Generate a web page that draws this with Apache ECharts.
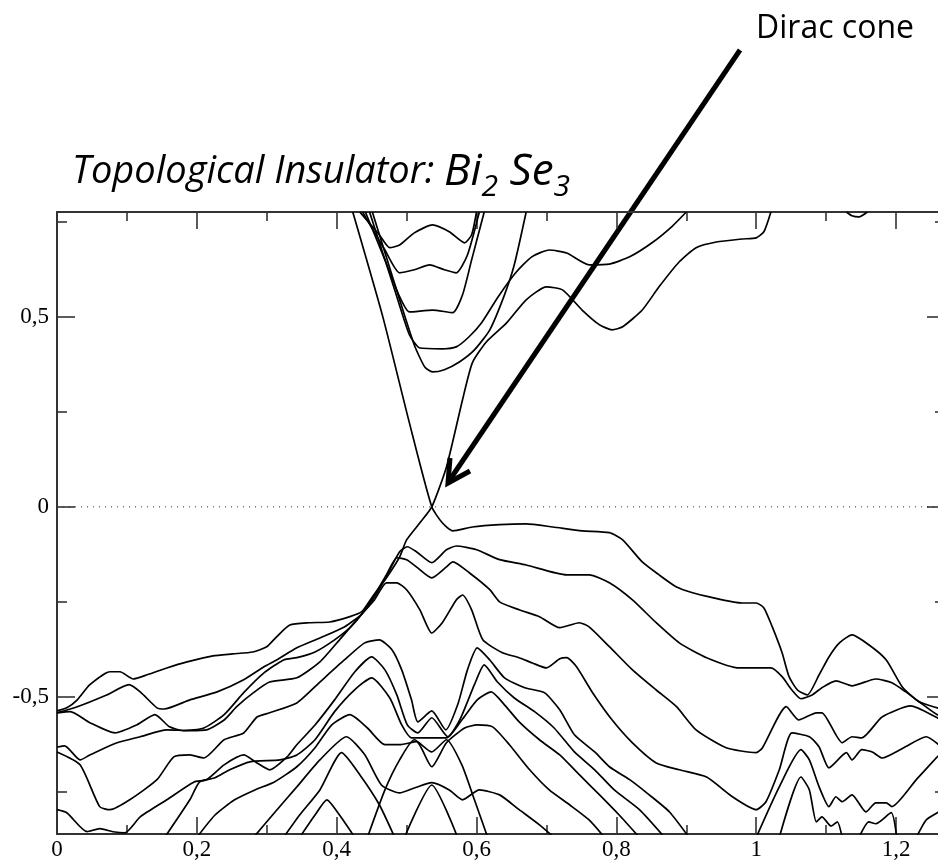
<!DOCTYPE html>
<html><head><meta charset="utf-8">
<script src="https://cdn.jsdelivr.net/npm/echarts@6/dist/echarts.min.js"></script>
<style>html,body{margin:0;padding:0;background:#fff;overflow:hidden}#c{width:938px;height:863px}</style>
</head><body><div id="c"></div>
<script>
const xMajorTicks = [0, 0.2, 0.4, 0.6, 0.8, 1, 1.2];
const xMinorTicks = [0.1, 0.3, 0.5, 0.7, 0.9, 1.1];
const yMajorTicks = [-0.5, 0, 0.5];
const yMinorTicks = [-0.75, -0.25, 0.25, 0.75];
const zeroLine = [[0, 0], [1.27, 0]];

const coneA = [[0.423,0.776],[0.466,0.5],[0.504,0.221],[0.536,0],[0.551,-0.042],[0.566,-0.063],[0.594,-0.053],[0.633,-0.047],[0.671,-0.045],[0.709,-0.053],[0.751,-0.063],[0.79,-0.068],[0.809,-0.087],[0.837,-0.145],[0.861,-0.179],[0.886,-0.211],[0.909,-0.226],[0.933,-0.237],[0.98,-0.253],[1.0,-0.253],[1.011,-0.266],[1.023,-0.316],[1.037,-0.384],[1.047,-0.447],[1.059,-0.482],[1.073,-0.495],[1.09,-0.442],[1.104,-0.395],[1.119,-0.358],[1.137,-0.337],[1.161,-0.363],[1.186,-0.403],[1.209,-0.474],[1.233,-0.513],[1.259,-0.529],[1.27,-0.534]];
const coneB = [[0,-0.537],[0.014,-0.529],[0.029,-0.508],[0.047,-0.468],[0.076,-0.434],[0.09,-0.434],[0.109,-0.453],[0.129,-0.442],[0.157,-0.424],[0.186,-0.408],[0.223,-0.392],[0.251,-0.387],[0.28,-0.382],[0.3,-0.368],[0.314,-0.342],[0.333,-0.311],[0.361,-0.305],[0.39,-0.303],[0.419,-0.289],[0.436,-0.276],[0.451,-0.237],[0.471,-0.187],[0.49,-0.132],[0.5,-0.087],[0.519,-0.042],[0.536,0],[0.557,0.105],[0.58,0.282],[0.594,0.379],[0.614,0.434],[0.643,0.484],[0.671,0.545],[0.7,0.579],[0.723,0.571],[0.751,0.518],[0.776,0.479],[0.794,0.466],[0.809,0.474],[0.837,0.518],[0.861,0.579],[0.89,0.645],[0.914,0.682],[0.943,0.697],[0.98,0.705],[1.0,0.708],[1.011,0.724],[1.021,0.776]];
const cb1 = [[0.433,0.776],[0.461,0.716],[0.476,0.682],[0.49,0.689],[0.511,0.721],[0.537,0.742],[0.561,0.724],[0.583,0.695],[0.593,0.716],[0.6,0.776]];
const cb2 = [[0.437,0.776],[0.469,0.676],[0.49,0.616],[0.511,0.624],[0.533,0.637],[0.554,0.624],[0.571,0.616],[0.587,0.663],[0.604,0.776]];
const cb3 = [[0.441,0.776],[0.469,0.65],[0.49,0.553],[0.504,0.513],[0.537,0.518],[0.566,0.511],[0.58,0.558],[0.593,0.65],[0.611,0.776]];
const cb4 = [[0.447,0.776],[0.483,0.571],[0.504,0.453],[0.519,0.418],[0.551,0.416],[0.571,0.421],[0.589,0.447],[0.607,0.484],[0.631,0.553],[0.656,0.616],[0.679,0.658],[0.704,0.676],[0.729,0.668],[0.761,0.637],[0.79,0.639],[0.819,0.658],[0.851,0.695],[0.879,0.737],[0.9,0.776]];
const cb5 = [[0.451,0.776],[0.49,0.545],[0.511,0.426],[0.526,0.368],[0.537,0.355],[0.554,0.361],[0.576,0.382],[0.597,0.413],[0.619,0.466],[0.64,0.558],[0.654,0.637],[0.671,0.776]];
const cbTop = [[1.129,0.776],[1.137,0.766],[1.147,0.763],[1.159,0.776]];

const vb2 = [[0,-0.542],[0.029,-0.526],[0.071,-0.495],[0.103,-0.468],[0.119,-0.487],[0.143,-0.529],[0.153,-0.532],[0.19,-0.508],[0.229,-0.487],[0.267,-0.455],[0.296,-0.421],[0.314,-0.403],[0.343,-0.371],[0.376,-0.345],[0.411,-0.316],[0.436,-0.282],[0.456,-0.232],[0.473,-0.176],[0.49,-0.118],[0.501,-0.105],[0.514,-0.118],[0.536,-0.147],[0.557,-0.113],[0.571,-0.103],[0.6,-0.113],[0.633,-0.139],[0.671,-0.153],[0.729,-0.179],[0.761,-0.179],[0.79,-0.2],[0.823,-0.245],[0.857,-0.305],[0.89,-0.358],[0.929,-0.397],[0.976,-0.424],[1.021,-0.424],[1.037,-0.447],[1.051,-0.482],[1.064,-0.505],[1.08,-0.495],[1.094,-0.476],[1.114,-0.458],[1.137,-0.471],[1.171,-0.453],[1.194,-0.463],[1.214,-0.487],[1.233,-0.513],[1.259,-0.547],[1.27,-0.55]];
const vb3 = [[0,-0.542],[0.019,-0.539],[0.047,-0.568],[0.083,-0.595],[0.114,-0.574],[0.14,-0.547],[0.161,-0.579],[0.181,-0.589],[0.21,-0.582],[0.239,-0.547],[0.267,-0.489],[0.296,-0.437],[0.324,-0.403],[0.343,-0.397],[0.369,-0.382],[0.397,-0.35],[0.419,-0.318],[0.436,-0.282],[0.454,-0.232],[0.471,-0.179],[0.486,-0.134],[0.5,-0.139],[0.514,-0.158],[0.536,-0.187],[0.557,-0.158],[0.566,-0.145],[0.59,-0.174],[0.619,-0.218],[0.633,-0.25],[0.661,-0.271],[0.69,-0.289],[0.719,-0.318],[0.747,-0.305],[0.761,-0.316],[0.79,-0.368],[0.823,-0.429],[0.857,-0.482],[0.886,-0.526],[0.914,-0.587],[0.957,-0.634],[1.0,-0.647],[1.009,-0.634],[1.043,-0.526],[1.061,-0.561],[1.086,-0.542],[1.094,-0.542],[1.123,-0.621],[1.137,-0.605],[1.151,-0.608],[1.18,-0.553],[1.221,-0.524],[1.259,-0.555],[1.27,-0.563]];
const vb4 = [[0,-0.632],[0.011,-0.629],[0.033,-0.666],[0.047,-0.653],[0.086,-0.621],[0.119,-0.605],[0.157,-0.587],[0.19,-0.589],[0.214,-0.587],[0.239,-0.561],[0.257,-0.526],[0.281,-0.489],[0.304,-0.461],[0.343,-0.45],[0.376,-0.408],[0.404,-0.35],[0.436,-0.282],[0.454,-0.245],[0.471,-0.2],[0.486,-0.2],[0.5,-0.218],[0.519,-0.271],[0.536,-0.332],[0.551,-0.305],[0.571,-0.245],[0.58,-0.232],[0.593,-0.271],[0.609,-0.35],[0.637,-0.384],[0.661,-0.397],[0.68,-0.411],[0.7,-0.424],[0.719,-0.4],[0.729,-0.397],[0.743,-0.421],[0.766,-0.489],[0.794,-0.561],[0.823,-0.621],[0.857,-0.674],[0.89,-0.692],[0.929,-0.711],[0.966,-0.763],[1.0,-0.797],[1.014,-0.776],[1.033,-0.692],[1.051,-0.595],[1.076,-0.605],[1.09,-0.632],[1.104,-0.687],[1.129,-0.647],[1.137,-0.666],[1.151,-0.639],[1.166,-0.645],[1.18,-0.661],[1.211,-0.634],[1.243,-0.605],[1.269,-0.639]];
const vb5 = [[0,-0.645],[0.033,-0.679],[0.061,-0.789],[0.076,-0.797],[0.104,-0.771],[0.143,-0.718],[0.167,-0.658],[0.19,-0.653],[0.21,-0.661],[0.239,-0.613],[0.267,-0.595],[0.286,-0.553],[0.304,-0.542],[0.343,-0.516],[0.376,-0.461],[0.411,-0.403],[0.44,-0.358],[0.461,-0.35],[0.479,-0.376],[0.493,-0.429],[0.507,-0.508],[0.516,-0.566],[0.536,-0.537],[0.556,-0.587],[0.573,-0.521],[0.587,-0.429],[0.601,-0.371],[0.619,-0.403],[0.64,-0.45],[0.669,-0.476],[0.697,-0.489],[0.719,-0.534],[0.74,-0.6],[0.769,-0.645],[0.79,-0.684],[0.819,-0.718],[0.847,-0.758],[0.876,-0.803],[0.904,-0.87]];
const vb6 = [[0,-0.797],[0.014,-0.805],[0.043,-0.855],[0.061,-0.847],[0.08,-0.855],[0.097,-0.858],[0.119,-0.816],[0.157,-0.771],[0.196,-0.724],[0.214,-0.718],[0.239,-0.679],[0.267,-0.653],[0.286,-0.674],[0.304,-0.692],[0.329,-0.658],[0.343,-0.626],[0.369,-0.574],[0.397,-0.508],[0.426,-0.434],[0.45,-0.395],[0.469,-0.429],[0.486,-0.495],[0.501,-0.574],[0.516,-0.595],[0.536,-0.555],[0.559,-0.605],[0.576,-0.561],[0.597,-0.468],[0.611,-0.416],[0.63,-0.461],[0.654,-0.503],[0.683,-0.539],[0.711,-0.582],[0.74,-0.645],[0.769,-0.692],[0.797,-0.745],[0.833,-0.797],[0.869,-0.87]];
const vb7 = [[0.154,-0.87],[0.19,-0.771],[0.204,-0.724],[0.226,-0.713],[0.247,-0.692],[0.276,-0.671],[0.319,-0.666],[0.343,-0.653],[0.369,-0.613],[0.397,-0.539],[0.426,-0.481],[0.45,-0.45],[0.476,-0.503],[0.493,-0.574],[0.507,-0.608],[0.536,-0.608],[0.557,-0.608],[0.579,-0.561],[0.601,-0.508],[0.621,-0.487],[0.64,-0.521],[0.661,-0.566],[0.69,-0.613],[0.719,-0.653],[0.747,-0.705],[0.776,-0.758],[0.804,-0.811],[0.833,-0.87]];
const vb8 = [[0.2,-0.87],[0.226,-0.811],[0.254,-0.771],[0.283,-0.745],[0.311,-0.724],[0.343,-0.684],[0.369,-0.634],[0.393,-0.574],[0.419,-0.547],[0.444,-0.582],[0.469,-0.626],[0.49,-0.626],[0.514,-0.618],[0.536,-0.684],[0.557,-0.621],[0.583,-0.582],[0.601,-0.574],[0.623,-0.579],[0.647,-0.626],[0.676,-0.692],[0.704,-0.745],[0.733,-0.784],[0.761,-0.824],[0.783,-0.87]];
const vb9 = [[0.281,-0.87],[0.311,-0.805],[0.343,-0.737],[0.376,-0.666],[0.414,-0.605],[0.44,-0.652],[0.464,-0.732],[0.49,-0.753],[0.511,-0.74],[0.536,-0.726],[0.561,-0.745],[0.58,-0.771],[0.604,-0.745],[0.633,-0.758],[0.661,-0.797],[0.69,-0.837],[0.711,-0.87]];
const vb10 = [[0.324,-0.87],[0.347,-0.811],[0.376,-0.745],[0.407,-0.647],[0.433,-0.705],[0.461,-0.784],[0.483,-0.87]];
const vb11 = [[0.347,-0.87],[0.369,-0.811],[0.386,-0.771],[0.404,-0.811],[0.426,-0.87]];
const vbS1 = [[0.444,-0.87],[0.469,-0.745],[0.49,-0.666],[0.511,-0.613],[0.536,-0.645],[0.557,-0.613],[0.579,-0.679],[0.597,-0.771],[0.616,-0.87]];
const vbS2 = [[0.497,-0.87],[0.536,-0.732],[0.573,-0.87]];
const vb5r = [[1.0,-0.87],[1.033,-0.737],[1.064,-0.639],[1.076,-0.666],[1.09,-0.737],[1.104,-0.789],[1.114,-0.763],[1.123,-0.776],[1.137,-0.758],[1.157,-0.803],[1.171,-0.779],[1.186,-0.779],[1.194,-0.789],[1.229,-0.718],[1.259,-0.658],[1.27,-0.64]];
const vb6r = [[1.033,-0.87],[1.064,-0.711],[1.076,-0.745],[1.086,-0.829],[1.094,-0.816],[1.107,-0.84],[1.116,-0.829],[1.123,-0.87]];
const vbBump = [[1.147,-0.87],[1.161,-0.829],[1.171,-0.834],[1.193,-0.805],[1.201,-0.87]];
const vbEdge = [[1.229,-0.87],[1.243,-0.824],[1.259,-0.805],[1.27,-0.79]];

const bandList = [coneA, coneB, cb1, cb2, cb3, cb4, cb5, cbTop, vb2, vb3, vb4, vb5, vb6, vb7, vb8, vb9, vb10, vb11, vbS1, vbS2, vb5r, vb6r, vbBump, vbEdge];

const chart = echarts.init(document.getElementById('c'), null, {renderer: 'canvas'});
const axisCol = '#333';
const fmt = v => String(+(+v).toFixed(2)).replace('.', ',');
function xAx(pos, ticks, len, labels, line) {
  return {type: 'value', position: pos, min: 0, max: 1.27,
    axisLine: {show: line, onZero: false, lineStyle: {color: axisCol, width: 2}},
    axisTick: {show: true, inside: true, length: len, customValues: ticks, lineStyle: {color: axisCol, width: 1.6}},
    axisLabel: labels ? {show: true, customValues: ticks, formatter: fmt, fontFamily: 'Liberation Serif', fontSize: 23, color: '#000', margin: 4} : {show: false},
    splitLine: {show: false}};
}
function yAx(pos, ticks, len, labels, line) {
  return {type: 'value', position: pos, min: -0.861, max: 0.776,
    axisLine: {show: line, onZero: false, lineStyle: {color: axisCol, width: 2}},
    axisTick: {show: true, inside: true, length: len, customValues: ticks, lineStyle: {color: axisCol, width: 1.6}},
    axisLabel: labels ? {show: true, customValues: ticks, formatter: fmt, fontFamily: 'Liberation Serif', fontSize: 23, color: '#000', margin: 8} : {show: false},
    splitLine: {show: false}};
}
const series = bandList.map(d => ({type: 'line', data: d, showSymbol: false, symbol: 'none', smooth: 0.2, clip: true, silent: true,
  lineStyle: {color: '#000', width: 1.7}}));
series.push({type: 'line', data: zeroLine, showSymbol: false, symbol: 'none', silent: true,
  lineStyle: {color: '#333', width: 1, type: [1, 5]}});

chart.setOption({
  animation: false,
  grid: {left: 57, top: 212, width: 888, height: 622, containLabel: false, outerBoundsMode: 'none'},
  xAxis: [xAx('bottom', xMajorTicks, 17, true, true), xAx('bottom', xMinorTicks, 9, false, false),
          xAx('top', xMajorTicks, 17, false, true), xAx('top', xMinorTicks, 9, false, false)],
  yAxis: [yAx('left', yMajorTicks, 18, true, true), yAx('left', yMinorTicks, 10, false, false),
          yAx('right', yMajorTicks, 18, false, false), yAx('right', yMinorTicks, 10, false, false)],
  series: series,
  graphic: [
    {type: 'text', x: 756, y: 29, style: {text: 'Dirac cone', font: '32px "Open Sans"', fill: '#000', verticalAlign: 'middle'}},
    {type: 'text', x: 72, y: 142, style: {text: '{m|Topological Insulator: }{f|Bi}{s|2}{f| Se}{s|3}', verticalAlign: 'top',
      rich: {m: {fontFamily: 'Open Sans', fontStyle: 'italic', fontSize: 38, lineHeight: 60, verticalAlign: 'middle', fill: '#000'},
             f: {fontFamily: 'Open Sans', fontStyle: 'italic', fontSize: 44, lineHeight: 60, verticalAlign: 'middle', fill: '#000'},
             s: {fontFamily: 'Open Sans', fontStyle: 'italic', fontSize: 30, lineHeight: 28, verticalAlign: 'bottom', fill: '#000'}}}},
    {type: 'line', shape: {x1: 740, y1: 50, x2: 449, y2: 481}, style: {stroke: '#000', lineWidth: 5}},
    {type: 'polyline', shape: {points: [[450, 458], [448, 483], [470, 471]]}, style: {stroke: '#000', lineWidth: 5, fill: null, lineJoin: 'miter'}}
  ]
});
</script></body></html>
